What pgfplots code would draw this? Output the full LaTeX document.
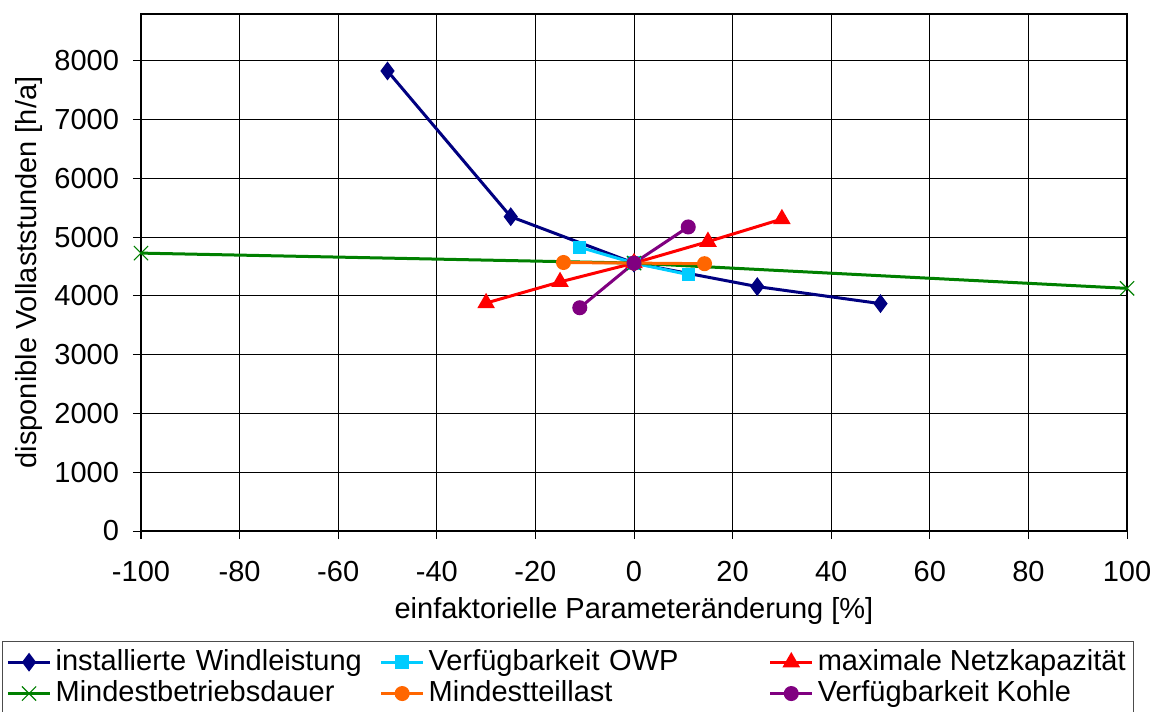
\documentclass[border=0pt]{standalone}
\usepackage{pgfplots}
\pgfplotsset{compat=1.18}
\usepackage{fontspec}
\setmainfont{Liberation Sans}

\definecolor{cWind}{RGB}{0,0,128}
\definecolor{cOWP}{RGB}{0,204,255}
\definecolor{cNetz}{RGB}{255,0,0}
\definecolor{cBetr}{RGB}{0,128,0}
\definecolor{cTeil}{RGB}{255,102,0}
\definecolor{cKohle}{RGB}{128,0,128}

\begin{document}
\begin{tikzpicture}
\fontsize{14.5}{17}\selectfont
\begin{axis}[
    scale only axis,
    width=493pt, height=258.5pt,
    xmin=-100, xmax=100,
    ymin=0, ymax=8800,
    xtick={-100,-80,...,100},
    ytick={0,1000,...,8000},
    grid=major,
    major grid style={black, line width=0.5pt},
    axis line style={black, line width=0.6pt},
    tick align=outside,
    major tick length=4pt,
    tick style={black, line width=0.5pt},
    xtick pos=bottom, ytick pos=left,
    /pgf/number format/assume math mode=true,
    /pgf/number format/1000 sep={},
    ticklabel style={font=\fontsize{14.5}{17}\selectfont},
    xticklabel style={yshift=-6pt},
    yticklabel style={xshift=-2pt},
    xlabel={einfaktorielle Parameteränderung [\%]},
    ylabel={disponible Vollaststunden [h/a]},
    label style={font=\fontsize{14.5}{17}\selectfont},
    xlabel style={yshift=2pt},
    ylabel style={yshift=-4pt},
    clip=false,
    every axis plot/.append style={line width=1.5pt},
    legend columns=3,
    legend cell align=left,
    legend image code/.code={\draw[mark repeat=2,mark phase=2] plot coordinates {(0cm,0cm)(0.37cm,0cm)(0.74cm,0cm)};},
    legend style={at={(0,0)}, anchor=north west, xshift=-69.5pt, yshift=-55pt,
        draw=black!70, line width=0.5pt, inner sep=2pt,
        font=\fontsize{14.5}{17}\selectfont,
        row sep=-1pt,
        /tikz/column 2/.style={text width=160pt, align=left},
        /tikz/column 4/.style={text width=168pt, align=left}},
]
\coordinate (SW) at (rel axis cs:0,0);
\coordinate (NE) at (rel axis cs:1,1);

\addplot[color=cWind, mark=diamond*, mark size=3.5pt, mark options={solid}]
coordinates {(-50,7830) (-25,5350) (0,4560) (25,4160) (50,3870)};
\addlegendentry{installierte Windleistung}

\addplot[color=cOWP, mark=square*, mark size=2.6pt]
coordinates {(-11,4830) (0,4560) (11,4365)};
\addlegendentry{Verfügbarkeit OWP}

\addplot[color=cNetz, mark=triangle*, mark size=3.6pt]
coordinates {(-30,3880) (-15,4240) (0,4560) (15,4925) (30,5310)};
\addlegendentry{maximale Netzkapazität}

\addplot[color=cBetr, mark=x, mark size=5pt, mark options={line width=0.6pt}]
coordinates {(-100,4730) (0,4560) (100,4130)};
\addlegendentry{Mindestbetriebsdauer}

\addplot[color=cTeil, mark=*, mark size=3pt]
coordinates {(-14.3,4570) (0,4560) (14.3,4550)};
\addlegendentry{Mindestteillast}

\addplot[color=cKohle, mark=*, mark size=3pt]
coordinates {(-11,3800) (0,4560) (11,5175)};
\addlegendentry{Verfügbarkeit Kohle}
\end{axis}
\pgfresetboundingbox
\path[use as bounding box] ([shift={(-70.5pt,-90pt)}]SW) rectangle ([shift={(16pt,7pt)}]NE);
\end{tikzpicture}
\end{document}
